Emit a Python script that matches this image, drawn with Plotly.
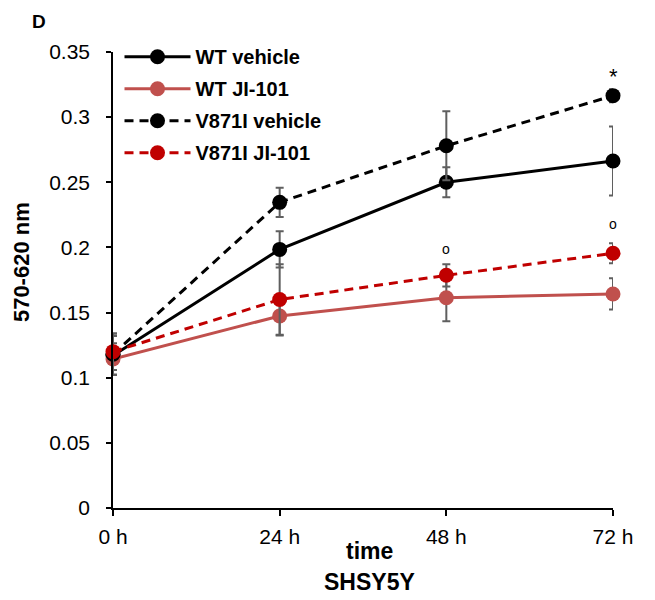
import plotly.graph_objects as go

# ---- data ----
hours = [0, 24, 48, 72]
tick_labels = ["0 h", "24 h", "48 h", "72 h"]
y_ticks = [0, 0.05, 0.1, 0.15, 0.2, 0.25, 0.3, 0.35]
y_tick_labels = ["0", "0.05", "0.1", "0.15", "0.2", "0.25", "0.3", "0.35"]

series_names = ["WT vehicle", "WT JI-101", "V871I vehicle", "V871I JI-101"]
wt_vehicle = [0.117, 0.1985, 0.250, 0.2663]
wt_vehicle_err = [0.015, 0.014, 0.0115, 0.0265]
wt_ji101 = [0.1144, 0.1474, 0.1614, 0.1643]
wt_ji101_err = [0.012, 0.015, 0.018, 0.012]
v871i_vehicle = [0.118, 0.2346, 0.278, 0.3165]
v871i_vehicle_err = [0.016, 0.0112, 0.0265, 0.005]
v871i_ji101 = [0.120, 0.160, 0.1786, 0.1955]
v871i_ji101_err = [0.014, 0.027, 0.0085, 0.0077]

# significance marks
sig_x = [72, 48, 72]
sig_y = [0.331, 0.1988, 0.218]
sig_text = ["*", "o", "o"]

colors = ["#000000", "#C0504D", "#000000", "#C00000"]
dashes = ["solid", "solid", "9px,6px", "9px,6px"]
values = [wt_vehicle, wt_ji101, v871i_vehicle, v871i_ji101]
errors = [wt_vehicle_err, wt_ji101_err, v871i_vehicle_err, v871i_ji101_err]

FONT = "Liberation Sans, Arial, sans-serif"

fig = go.Figure()
for i, name in enumerate(series_names):
    fig.add_trace(go.Scatter(
        x=hours, y=values[i], name=name, mode="lines+markers",
        line=dict(color=colors[i], width=3, dash=dashes[i]),
        marker=dict(color=colors[i], size=15, line=dict(width=0)),
        error_y=dict(type="data", array=errors[i], visible=True,
                     color="#5f5f5f", thickness=2, width=4),
        cliponaxis=False, legendgroup=name,
    ))

for x, y, t in zip(sig_x, sig_y, sig_text):
    fig.add_annotation(x=x, y=y, text=t, showarrow=False,
                       font=dict(family=FONT, size=22 if t == "*" else 14, color="black"))

def ann(x, y, text, size, angle=0, yanchor="middle"):
    fig.add_annotation(xref="paper", yref="paper", x=x, y=y, text=text,
                       showarrow=False, textangle=angle,
                       xanchor="center", yanchor=yanchor,
                       font=dict(family=FONT, size=size, color="black"))

ann(-0.1489, 1.0945, "<b>D</b>", 19, yanchor="top")
ann(0.5125, -0.0943, "<b>time</b>", 23)
ann(0.5125, -0.1623, "<b>SHSY5Y</b>", 23)
ann(-0.1818, 0.5395, "<b>570-620 nm</b>", 22, -90)

fig.update_layout(
    width=655, height=600,
    margin=dict(l=104.5, r=50, t=44, b=100),
    paper_bgcolor="white", plot_bgcolor="white",
    font=dict(family=FONT, color="black"),
    showlegend=True,
    legend=dict(x=0.013, y=1.0325, xanchor="left", yanchor="top",
                font=dict(family=FONT, size=20, color="black", weight="bold"),
                itemwidth=66, tracegroupgap=3, bgcolor="rgba(0,0,0,0)"),
    xaxis=dict(range=[0, 72], tickvals=hours, ticktext=tick_labels,
               showline=True, linecolor="black", linewidth=1.5,
               ticks="outside", ticklen=6, tickcolor="black", tickwidth=1.5,
               showgrid=False, zeroline=False, ticklabelstandoff=3,
               tickfont=dict(family=FONT, size=21)),
    yaxis=dict(range=[0, 0.35], tickvals=y_ticks, ticktext=y_tick_labels,
               showline=True, linecolor="black", linewidth=1.5,
               ticks="outside", ticklen=5, tickcolor="black", tickwidth=1.5,
               showgrid=False, zeroline=False, ticklabelstandoff=12,
               tickfont=dict(family=FONT, size=21)),
)
fig.write_html("out.html")
